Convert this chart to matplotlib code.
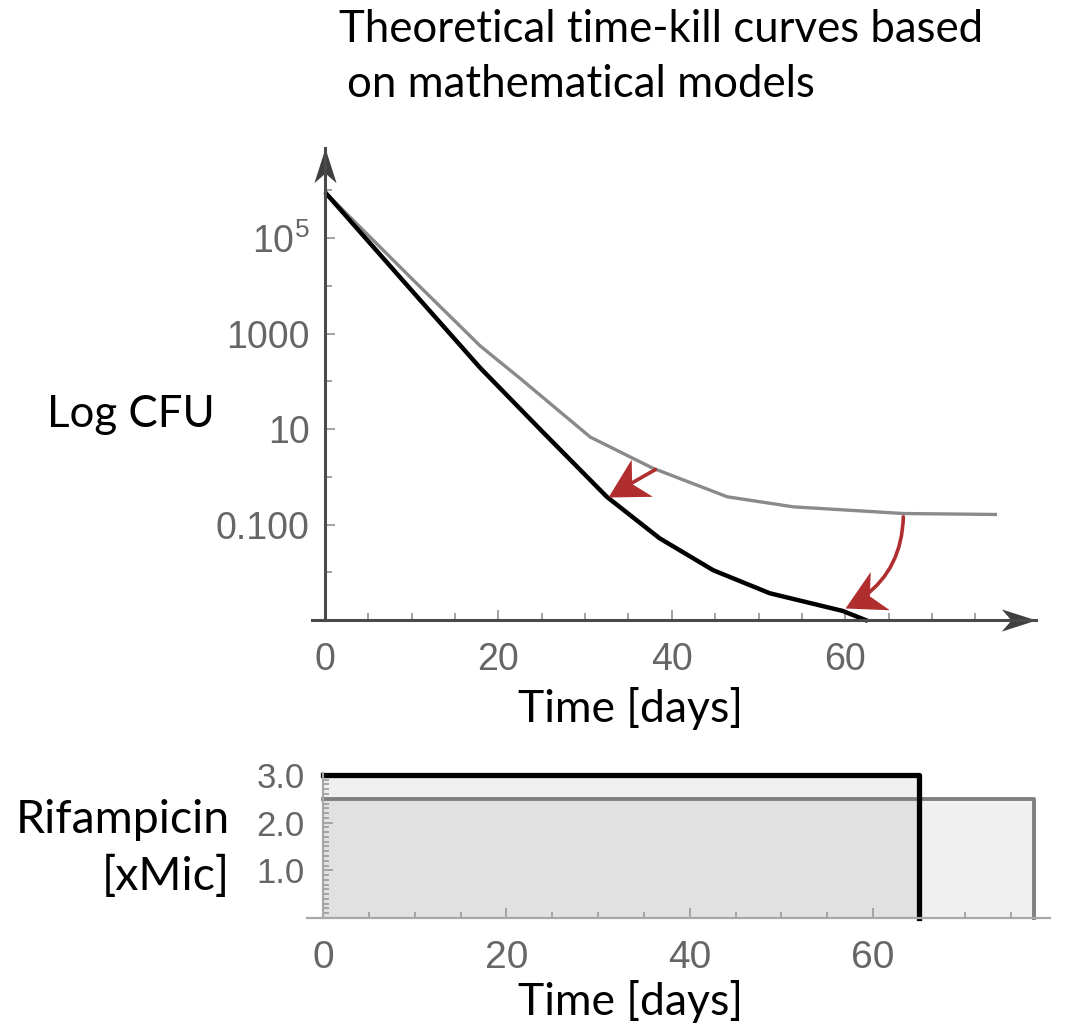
import numpy as np
import matplotlib
matplotlib.use("Agg")
from matplotlib import pyplot as plt
from matplotlib.path import Path
from matplotlib.markers import MarkerStyle
from matplotlib.ticker import FixedLocator, NullFormatter
from matplotlib.patches import FancyArrowPatch

plt.rcParams['font.family'] = ['Lato', 'DejaVu Sans']
plt.rcParams['mathtext.fontset'] = 'custom'
plt.rcParams['mathtext.rm'] = 'Liberation Sans'
plt.rcParams['mathtext.it'] = 'Liberation Sans'

# time-kill curves (log10 CFU)
gray_t = [0, 10, 17.9, 22.5, 30.6, 37.8, 46.4, 54.0, 66.7, 77.5]
gray_log = [5.96, 4.15, 2.74, 2.06, 0.83, 0.18, -0.42, -0.63, -0.77, -0.79]
black_t = [0, 10, 17.9, 25.1, 32.5, 38.6, 44.8, 51.3, 59.7, 62.6]
black_log = [5.96, 3.90, 2.28, 0.94, -0.42, -1.29, -1.96, -2.44, -2.81, -3.02]

# red arrows: (tail t, tail log), (head t, head log)
arrow1 = [(38.1, 0.15), (32.6, -0.42)]
arrow2 = [(66.7, -0.84), (60.0, -2.75)]

# rifampicin dosing
dose_black_level = 3.0
dose_black_end = 65
dose_gray_level = 2.5
dose_gray_end = 77.6

ytick_vals = [1e5, 1e3, 10, 0.1]
ytick_labels = ['$10^{5}$', '1000', '10', '0.100']
yminor_vals = [1e6, 1e4, 100, 1, 0.01]
xtick_vals = [0, 20, 40, 60]

tick_gray = '#666666'
spine_dark = '#4a4a4a'
red = '#b02e2e'

fig = plt.figure(figsize=(10.66, 10.26), dpi=100)
W, H = 1066, 1026

def fx(px):
    return px / W

def fy(py):
    return 1 - py / H

# arrow head shape, tip at origin, pointing to +x, notched back
head_path = Path([(0, 0), (-1, 0.55), (-0.7, 0), (-1, -0.55), (0, 0)],
                 [Path.MOVETO, Path.LINETO, Path.LINETO, Path.LINETO, Path.CLOSEPOLY])
up_head = Path([(0, 0), (-0.32, -1), (0, -0.72), (0.32, -1), (0, 0)],
               [Path.MOVETO, Path.LINETO, Path.LINETO, Path.LINETO, Path.CLOSEPOLY])
right_head = Path([(0, 0), (-1, 0.32), (-0.72, 0), (-1, -0.32), (0, 0)],
                  [Path.MOVETO, Path.LINETO, Path.LINETO, Path.LINETO, Path.CLOSEPOLY])

# ---------- top panel ----------
ax = fig.add_axes([fx(312), fy(620), (1036 - 312) / W, (620 - 148) / H])
ax.set_yscale('log')
ax.set_xlim(-1.5, 82)
ax.set_ylim(1e-3, 10 ** 6.885)

ax.plot(gray_t, 10 ** np.array(gray_log), color='#8a8a8a', lw=2.4, solid_capstyle='butt')
ax.plot(black_t, 10 ** np.array(black_log), color='black', lw=3.2, clip_on=False,
        solid_capstyle='butt')

for (t0, l0), (t1, l1), rad in [(arrow1[0], arrow1[1], 0.0), (arrow2[0], arrow2[1], -0.3)]:
    p0 = (t0, 10 ** l0)
    p1 = (t1, 10 ** l1)
    shaft = FancyArrowPatch(p0, p1, arrowstyle='-', connectionstyle='arc3,rad=%s' % rad,
                            color=red, lw=2.6, shrinkA=0, shrinkB=16, zorder=5)
    ax.add_patch(shaft)
    # direction at the tip (display coords) for the head
    d0 = ax.transData.transform(p0)
    d1 = ax.transData.transform(p1)
    mid = (d0 + d1) / 2
    dx, dy = d1 - d0
    ctrl = np.array([mid[0] + rad * dy, mid[1] - rad * dx])
    tx, ty = d1 - ctrl
    ang = np.degrees(np.arctan2(ty, tx))
    ax.plot([p1[0]], [p1[1]], marker=MarkerStyle(head_path).rotated(deg=ang), ms=56,
            color=red, mew=0, zorder=6, clip_on=False)

for s in ['top', 'right']:
    ax.spines[s].set_visible(False)
ax.spines['left'].set_position(('data', 0))
for s in ['left', 'bottom']:
    ax.spines[s].set_color(spine_dark)
    ax.spines[s].set_linewidth(2.2)

ax.set_yticks(ytick_vals)
ax.set_yticklabels(ytick_labels)
ax.yaxis.set_minor_locator(FixedLocator(yminor_vals))
ax.yaxis.set_minor_formatter(NullFormatter())
ax.set_xticks(xtick_vals)
ax.set_xticks(np.arange(5, 80, 5), minor=True)
ax.tick_params(which='both', direction='in', color='#9a9a9a', width=1.3)
ax.tick_params(which='major', length=7)
ax.tick_params(which='minor', length=5)
ax.tick_params(axis='y', which='major', labelsize=27, labelcolor=tick_gray, pad=11,
               labelfontfamily='Liberation Sans')
ax.tick_params(axis='x', which='major', labelsize=27, labelcolor=tick_gray, pad=16,
               labelfontfamily='Liberation Sans')

# arrow heads on the axes
ax.plot([0], [1], transform=ax.get_xaxis_transform(), marker=up_head, ms=50,
        color='#404040', mew=0, clip_on=False)
ax.plot([1], [1e-3], transform=ax.get_yaxis_transform(), marker=right_head, ms=50,
        color='#404040', mew=0, clip_on=False)

# ---------- bottom panel ----------
bx = fig.add_axes([fx(307), fy(918), (1050 - 307) / W, 145.5 / H])
bx.set_xlim(-1.75, 79.3)
bx.set_ylim(0, 3.05)

bx.fill_between([0, dose_gray_end], 0, dose_gray_level, color='black', alpha=0.06, lw=0)
bx.fill_between([0, dose_black_end], 0, dose_black_level, color='black', alpha=0.06, lw=0)
bx.plot([0, dose_gray_end, dose_gray_end], [dose_gray_level, dose_gray_level, 0],
        color='#808080', lw=2.8, clip_on=False)
bx.plot([0, dose_black_end, dose_black_end], [dose_black_level, dose_black_level, 0],
        color='black', lw=3.8, clip_on=False, solid_joinstyle='round')

for s in ['top', 'right']:
    bx.spines[s].set_visible(False)
bx.spines['left'].set_position(('data', 0))
for s in ['left', 'bottom']:
    bx.spines[s].set_color('#a8a8a8')
    bx.spines[s].set_linewidth(1.6)

bx.set_yticks([1.0, 2.0, 3.0])
bx.set_yticklabels(['1.0', '2.0', '3.0'])
bx.set_yticks(np.arange(0.1, 3.05, 0.1), minor=True)
bx.set_xticks(xtick_vals)
bx.set_xticks(np.arange(5, 80, 5), minor=True)
bx.tick_params(which='both', direction='in', color='#9a9a9a', width=1.2)
bx.tick_params(which='major', length=7)
bx.tick_params(which='minor', length=4)
bx.tick_params(axis='y', which='major', labelsize=25, labelcolor=tick_gray, pad=13,
               labelfontfamily='Liberation Sans')
bx.tick_params(axis='x', which='major', labelsize=28, labelcolor=tick_gray, pad=16,
               labelfontfamily='Liberation Sans')

# ---------- text ----------
fig.text(fx(339), fy(42), 'Theoretical time-kill curves based', fontsize=31.5, va='baseline')
fig.text(fx(347), fy(97), 'on mathematical models', fontsize=31.5, va='baseline')
fig.text(fx(47), fy(427), 'Log CFU', fontsize=31.5, va='baseline')
fig.text(fx(631), fy(722), 'Time [days]', fontsize=32, va='baseline', ha='center')
fig.text(fx(230), fy(833), 'Rifampicin', fontsize=33.5, va='baseline', ha='right')
fig.text(fx(230), fy(890), '[xMic]', fontsize=33.5, va='baseline', ha='right')
fig.text(fx(631), fy(1015), 'Time [days]', fontsize=32, va='baseline', ha='center')

fig.savefig('out.png', dpi=100)
